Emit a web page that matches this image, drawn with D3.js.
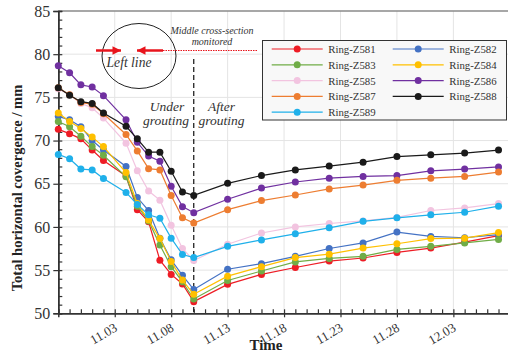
<!DOCTYPE html>
<html>
<head>
<meta charset="utf-8">
<script src="https://cdn.jsdelivr.net/npm/d3@7"></script>
<style>
  body { margin: 0; background: #fff; }
  svg { display: block; }
</style>
</head>
<body>
<div id="chart"></div>
<script>
const dates = ['10.29', '10.30', '10.31', '11.01', '11.02', '11.04', '11.05', '11.06', '11.07', '11.08', '11.09',
  '11.10', '11.13', '11.16', '11.19', '11.22', '11.25', '11.28', '12.01', '12.04', '12.07'];

const z581 = [71.3, 70.8, 70.2, 68.9, 67.7, 65.9, 62.0, 60.6, 56.15, 54.5, 53.4, 51.35, 53.35, 54.5, 55.3, 56.05, 56.4, 57.05, 57.55, 58.25, 59.0];
const z582 = [72.8, 72.4, 71.6, 70.0, 68.9, 67.0, 63.4, 61.9, 58.7, 56.2, 54.4, 52.75, 55.1, 55.75, 56.6, 57.5, 58.15, 59.4, 58.9, 58.75, 59.1];
const z583 = [72.2, 71.6, 70.5, 69.3, 68.3, 65.8, 62.4, 60.7, 57.9, 55.4, 53.65, 51.65, 53.8, 54.9, 55.95, 56.35, 56.6, 57.4, 57.75, 58.15, 58.55];
const z584 = [73.2, 72.2, 71.4, 70.4, 69.3, 66.3, 62.7, 60.8, 58.65, 56.0, 53.85, 52.2, 54.3, 55.4, 56.45, 56.85, 57.55, 58.05, 58.65, 58.7, 59.35];
const z585 = [76.0, 75.3, 74.3, 73.8, 72.6, 69.7, 66.5, 64.15, 63.1, 60.2, 57.5, 56.1, 58.0, 59.3, 60.0, 60.4, 60.7, 61.1, 61.9, 62.2, 62.7];
const z586 = [78.65, 77.85, 76.45, 76.2, 75.2, 72.4, 69.8, 68.2, 67.6, 64.7, 62.35, 61.65, 63.2, 64.5, 65.2, 65.65, 65.85, 65.95, 66.5, 66.7, 66.95];
const z587 = [76.1, 75.3, 74.4, 74.2, 73.1, 70.7, 68.8, 66.75, 66.6, 63.65, 61.05, 60.45, 62.0, 63.05, 63.7, 64.4, 64.85, 65.4, 65.65, 65.85, 66.35];
const z588 = [76.1, 75.25, 74.5, 74.3, 73.2, 71.65, 70.2, 68.65, 68.65, 66.45, 64.05, 63.65, 65.05, 65.95, 66.6, 67.05, 67.5, 68.15, 68.35, 68.55, 68.9];
const z589 = [68.4, 67.9, 66.7, 66.6, 65.6, 64.0, 62.6, 61.4, 61.0, 58.7, 56.8, 56.45, 57.75, 58.5, 59.2, 59.9, 60.65, 61.05, 61.4, 61.7, 62.4];

const seriesNames = ['Ring-Z581', 'Ring-Z582', 'Ring-Z583', 'Ring-Z584', 'Ring-Z585', 'Ring-Z586', 'Ring-Z587', 'Ring-Z588', 'Ring-Z589'];
const seriesValues = [z581, z582, z583, z584, z585, z586, z587, z588, z589];
const seriesColors = ['#ee1c25', '#4472c4', '#70ad47', '#ffc000', '#f2c4e0', '#7030a0', '#ed7d31', '#1a1a1a', '#1fb0ea'];

const xTickLabels = ['11.03', '11.08', '11.13', '11.18', '11.23', '11.28', '12.03'];
const yTicks = [50, 55, 60, 65, 70, 75, 80, 85];

const groutingDate = '11.10';
const xStart = '10.29';
const xEnd = '12.08';

const width = 508;
const height = 360;
const serif = '"Liberation Serif", "Times New Roman", "DejaVu Serif", serif';
const parseDay = s => d3.utcParse('%Y.%m.%d')('2019.' + s);

const svg = d3.select('#chart')
  .append('svg')
    .attr('width', width)
    .attr('height', height)
    .attr('font-family', serif);

const x = d3.scaleUtc()
  .domain([parseDay(xStart), parseDay(xEnd)])
  .range([58.3, 509.8]);

const y = d3.scaleLinear()
  .domain([50, 85])
  .range([313.3, 11]);

// grid
svg.append('g')
  .selectAll('line.hgrid')
  .data(yTicks.slice(1, -1))
  .enter()
  .append('line')
    .attr('x1', x.range()[0]).attr('x2', width)
    .attr('y1', d => y(d)).attr('y2', d => y(d))
    .attr('stroke', '#e4e4e4').attr('stroke-width', 1);

svg.append('g')
  .selectAll('line.vgrid')
  .data(xTickLabels)
  .enter()
  .append('line')
    .attr('x1', d => x(parseDay(d))).attr('x2', d => x(parseDay(d)))
    .attr('y1', y(85)).attr('y2', y(50))
    .attr('stroke', '#e4e4e4').attr('stroke-width', 1);

// top frame line
svg.append('line')
  .attr('x1', x.range()[0]).attr('x2', width)
  .attr('y1', y(85)).attr('y2', y(85))
  .attr('stroke', '#8a8a8a').attr('stroke-width', 1.5);

// axes
const yMajor = svg.append('g')
  .attr('transform', 'translate(' + x.range()[0] + ',0)')
  .call(d3.axisLeft(y).tickValues(yTicks).tickSize(5).tickPadding(3));
yMajor.attr('font-family', serif).attr('font-size', 16);
yMajor.selectAll('text').attr('fill', '#333');

svg.append('g')
  .attr('transform', 'translate(' + x.range()[0] + ',0)')
  .call(d3.axisLeft(y).tickValues(d3.range(50, 86, 1)).tickSize(-4).tickFormat(''));

const xMinorDays = d3.utcDay.range(parseDay(xStart), parseDay(xEnd));
svg.append('g')
  .attr('transform', 'translate(0,' + y(50) + ')')
  .call(d3.axisBottom(x).tickValues(xMinorDays).tickSize(-4).tickFormat(''));

const xMajor = svg.append('g')
  .attr('transform', 'translate(0,' + y(50) + ')')
  .call(d3.axisBottom(x).tickValues(xTickLabels.map(parseDay)).tickSize(4).tickFormat(d3.utcFormat('%m.%d')));
xMajor.attr('font-family', serif).attr('font-size', 13);
xMajor.selectAll('text')
  .attr('fill', '#333')
  .attr('text-anchor', 'end')
  .attr('dy', null)
  .attr('y', 0)
  .attr('transform', 'translate(3,17) rotate(-30)');

svg.selectAll('.domain').attr('stroke', '#333').attr('stroke-width', 1.5);
svg.selectAll('.tick line').attr('stroke', '#333').attr('stroke-width', 1.2);

// grouting divider
svg.append('line')
  .attr('x1', x(parseDay(groutingDate))).attr('x2', x(parseDay(groutingDate)))
  .attr('y1', 59).attr('y2', y(50))
  .attr('stroke', '#111').attr('stroke-width', 1.2)
  .attr('stroke-dasharray', '5,3');

// series
const line = d3.line()
  .x((d, i) => x(parseDay(dates[i])))
  .y(d => y(d));

seriesValues.forEach((vals, k) => {
  svg.append('path')
    .datum(vals)
    .attr('fill', 'none')
    .attr('stroke', seriesColors[k])
    .attr('stroke-width', 1.2)
    .attr('d', line);

  svg.append('g')
    .selectAll('circle')
    .data(vals)
    .enter()
    .append('circle')
      .attr('cx', (d, i) => x(parseDay(dates[i])))
      .attr('cy', d => y(d))
      .attr('r', 3.5)
      .attr('fill', seriesColors[k]);
});

// annotation: cross-section sketch
svg.append('ellipse')
  .attr('cx', 139).attr('cy', 56).attr('rx', 37).attr('ry', 32.5)
  .attr('fill', 'none').attr('stroke', '#222').attr('stroke-width', 1);

svg.append('defs').append('marker')
  .attr('id', 'arrowRed')
  .attr('viewBox', '0 0 10 10')
  .attr('refX', 10).attr('refY', 5)
  .attr('markerWidth', 4.4).attr('markerHeight', 3.4)
  .attr('markerUnits', 'strokeWidth')
  .attr('orient', 'auto')
  .append('path')
    .attr('d', 'M0,0 L10,5 L0,10 Z')
    .attr('fill', '#e8141c');

svg.append('line')
  .attr('x1', 96).attr('x2', 121).attr('y1', 50.5).attr('y2', 50.5)
  .attr('stroke', '#e8141c').attr('stroke-width', 2.5)
  .attr('marker-end', 'url(#arrowRed)');
svg.append('line')
  .attr('x1', 163).attr('x2', 137).attr('y1', 50.5).attr('y2', 50.5)
  .attr('stroke', '#e8141c').attr('stroke-width', 2.5)
  .attr('marker-end', 'url(#arrowRed)');
svg.append('line')
  .attr('x1', 163).attr('x2', 257).attr('y1', 50.5).attr('y2', 50.5)
  .attr('stroke', '#e8141c').attr('stroke-width', 1)
  .attr('stroke-dasharray', '1.5,1');

const note = svg.append('g').attr('fill', '#333').attr('font-style', 'italic');

note.append('text').attr('x', 129).attr('y', 67).attr('text-anchor', 'middle')
  .attr('font-size', 13.6).text('Left line');
note.append('text').attr('x', 212).attr('y', 34).attr('text-anchor', 'middle')
  .attr('font-size', 10).text('Middle cross-section');
note.append('text').attr('x', 212).attr('y', 45).attr('text-anchor', 'middle')
  .attr('font-size', 10).text('monitored');

note.append('text').attr('x', 167).attr('y', 111).attr('text-anchor', 'middle')
  .attr('font-size', 13.5).text('Under');
note.append('text').attr('x', 166).attr('y', 125).attr('text-anchor', 'middle')
  .attr('font-size', 13.5).text('grouting');
note.append('text').attr('x', 221.5).attr('y', 111).attr('text-anchor', 'middle')
  .attr('font-size', 13.5).text('After');
note.append('text').attr('x', 221.5).attr('y', 125).attr('text-anchor', 'middle')
  .attr('font-size', 13.5).text('grouting');

// legend
const legend = svg.append('g');
legend.append('rect')
  .attr('x', 262.5).attr('y', 40.5).attr('width', 244).attr('height', 79.5)
  .attr('fill', '#f8f8f8').attr('stroke', '#333').attr('stroke-width', 1);

seriesNames.forEach((name, k) => {
  const col = k % 2;
  const row = Math.floor(k / 2);
  const lx = col === 0 ? 271.7 : 392.7;
  const ly = 49 + row * 15.8;
  legend.append('line')
    .attr('x1', lx).attr('x2', lx + 51).attr('y1', ly).attr('y2', ly)
    .attr('stroke', seriesColors[k]).attr('stroke-width', 1.2);
  legend.append('circle')
    .attr('cx', lx + 25.5).attr('cy', ly).attr('r', 3.5)
    .attr('fill', seriesColors[k]);
  legend.append('text')
    .attr('x', lx + 56.5).attr('y', ly + 4)
    .attr('fill', '#333')
    .attr('font-size', 10.8)
    .text(name);
});

// axis titles
svg.append('text')
  .attr('transform', 'translate(22,188) rotate(-90)')
  .attr('text-anchor', 'middle')
  .attr('fill', '#222')
  .attr('font-size', 14.5).attr('font-weight', 'bold')
  .text('Total horizontal covergence / mm');

svg.append('text')
  .attr('x', 266).attr('y', 350)
  .attr('text-anchor', 'middle')
  .attr('fill', '#222')
  .attr('font-size', 15).attr('font-weight', 'bold')
  .text('Time');
</script>
</body>
</html>
